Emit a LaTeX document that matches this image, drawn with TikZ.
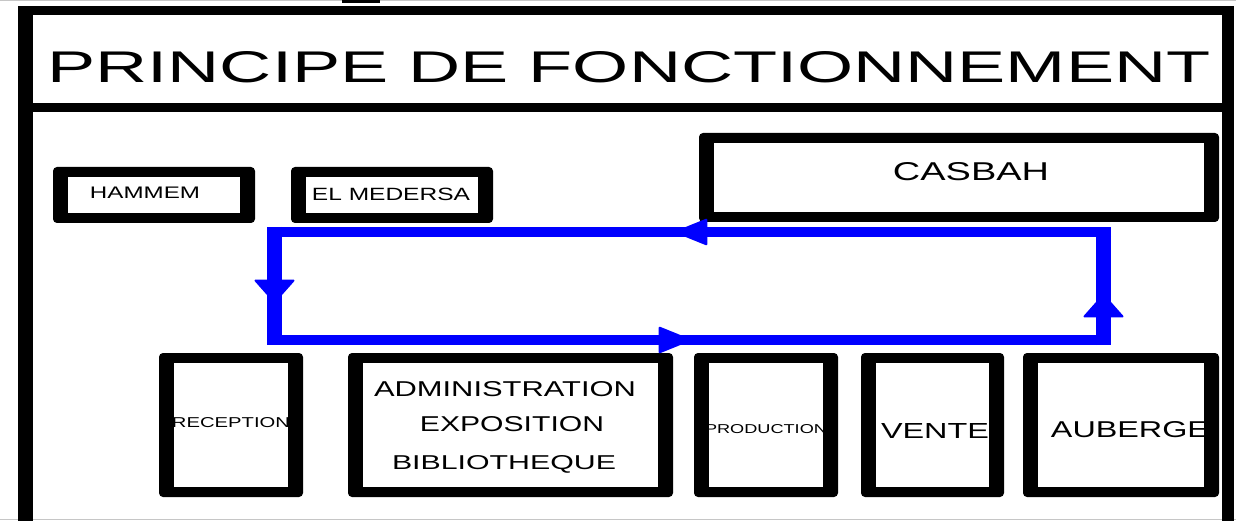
\documentclass[tikz,border=0pt]{standalone}
\usepackage{fontspec}
\setmainfont{Liberation Sans}
\usepackage{graphicx}
\usetikzlibrary{arrows.meta,decorations.markings}
\definecolor{flowblue}{RGB}{0,0,255}
\newcommand\fittext[3]{\resizebox{#1}{#2}{\raisebox{0pt}[\height][0pt]{#3}}}
\begin{document}
\begin{tikzpicture}[x=1pt,y=-1pt,
  roombox/.style={fill=black, draw=none, rounded corners=4pt, inner sep=0pt,
    path picture={\fill[white,sharp corners] ([shift={(15pt,10pt)}]path picture bounding box.south west) rectangle ([shift={(-15pt,-10pt)}]path picture bounding box.north east);}},
  lbl/.style={inner sep=0pt, anchor=center, text=black},
  flowh/.style={draw=flowblue, line width=10pt},
  flowv/.style={draw=flowblue, line width=15pt},
  hmark/.style={postaction={decorate}, decoration={markings, mark=at position #1 with {\arrow[flowblue]{Triangle[length=34pt,width=27pt,line width=2pt,round]}}}},
  vmark/.style={postaction={decorate}, decoration={markings, mark=at position #1 with {\arrow[flowblue]{Triangle[length=24pt,width=42pt,line width=2pt,round]}}}}
]
\useasboundingbox (0,0) rectangle (1236,521);
\fill[white] (0,0) rectangle (1236,521);
% scan artefacts at the edges
\fill[gray!45] (0,0) rectangle (1236,1.5);
\fill[black] (342,0) rectangle (380,3);
\fill[gray!45] (0,518.5) rectangle (1236,520);
% outer frame
\fill[black] (18,6) rectangle (1234,15);
\fill[black] (18,6) rectangle (33,521);
\fill[black] (1222,6) rectangle (1234,521);
\fill[black] (18,103) rectangle (1234,112);
% title
\node[lbl] (title) at (629,67.5) {\fittext{1162pt}{31pt}{PRINCIPE DE FONCTIONNEMENT}};
% boxes
\node[roombox, minimum width=202pt, minimum height=56pt] (hammem) at (154,195) {};
\node[roombox, minimum width=202pt, minimum height=56pt] (medersa) at (392,195) {};
\node[roombox, minimum width=520pt, minimum height=89pt] (casbah) at (959,177.5) {};
\node[roombox, minimum width=144pt, minimum height=144pt] (reception) at (231,425) {};
\node[roombox, minimum width=325pt, minimum height=144pt] (admin) at (510.5,425) {};
\node[roombox, minimum width=144pt, minimum height=144pt] (production) at (766,425) {};
\node[roombox, minimum width=143pt, minimum height=144pt] (vente) at (932.5,425) {};
\node[roombox, minimum width=196pt, minimum height=144pt] (auberge) at (1121,425) {};
% labels
\node[lbl] (thammem) at (145,192.5) {\fittext{110pt}{11.5pt}{HAMMEM}};
\node[lbl] (tmedersa) at (391,194.5) {\fittext{158pt}{12.4pt}{EL MEDERSA}};
\node[lbl] (tcasbah) at (971,172) {\fittext{156pt}{18pt}{CASBAH}};
\node[lbl] (treception) at (231,422) {\fittext{118pt}{10pt}{RECEPTION}};
\node[lbl] (tadmin) at (505,388.5) {\fittext{262pt}{15pt}{ADMINISTRATION}};
\node[lbl] (texpo) at (512,423.5) {\fittext{184pt}{15pt}{EXPOSITION}};
\node[lbl] (tbiblio) at (504,462) {\fittext{224pt}{14pt}{BIBLIOTHEQUE}};
\node[lbl] (tproduction) at (766,428.5) {\fittext{122pt}{9pt}{PRODUCTION}};
\node[lbl] (tvente) at (935,430.5) {\fittext{108pt}{15pt}{VENTE}};
\node[lbl] (tauberge) at (1130,429) {\fittext{158pt}{16pt}{AUBERGE}};
% circulation loop
\coordinate (ltop) at (274.5,227);
\coordinate (lbot) at (274.5,345);
\coordinate (rtop) at (1103.5,227);
\coordinate (rbot) at (1103.5,345);
\coordinate (toprt) at (1111,232);
\coordinate (toplt) at (267,232);
\coordinate (botlt) at (267,340);
\coordinate (botrt) at (1111,340);
\draw[flowh, hmark=436pt] (toprt) -- (toplt);
\draw[flowh, hmark=424pt] (botlt) -- (botrt);
\draw[flowv, vmark=76pt] (ltop) -- (lbot);
\draw[flowv, vmark=51pt] (rbot) -- (rtop);
\end{tikzpicture}
\end{document}
